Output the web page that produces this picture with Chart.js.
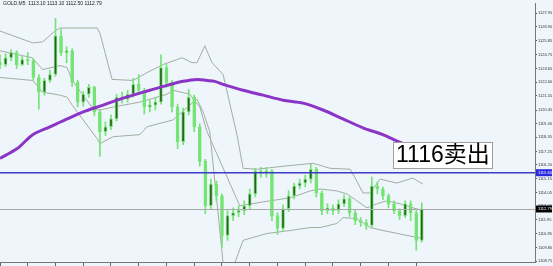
<!DOCTYPE html>
<html lang="zh">
<head>
    <meta charset="UTF-8">
    <title>GOLD,M5</title>
    <script src="https://cdn.jsdelivr.net/npm/chart.js"></script>
    <style>
        html, body { margin: 0; padding: 0; background: #eef5fb; overflow: hidden; }
    </style>
</head>
<body>
    <canvas id="goldChart" width="553" height="266"></canvas>

    <script>
        // candles, left to right (one every few M5 bars)
        var opens = [1124.13, 1123.98, 1124.51, 1124.90, 1123.98, 1124.36, 1124.28, 1122.98, 1121.84, 1122.75,
            1123.21, 1126.20, 1124.90, 1125.05, 1122.60, 1121.07, 1121.68, 1122.22, 1120.31, 1118.78,
            1119.16, 1119.77, 1121.45, 1121.30, 1121.68, 1122.45, 1121.99, 1120.69, 1120.84, 1121.07,
            1123.75, 1122.60, 1120.69, 1118.01, 1120.31, 1121.45, 1119.16, 1116.48, 1113.04, 1114.72,
            1113.80, 1110.74, 1112.27, 1112.50, 1112.66, 1113.04, 1113.96, 1115.72, 1115.56, 1115.72,
            1112.27, 1111.28, 1112.81, 1113.80, 1114.57, 1114.80, 1115.10, 1115.87, 1114.03, 1112.66,
            1112.88, 1112.66, 1113.19, 1113.57, 1112.50, 1111.89, 1111.74, 1111.51, 1114.57, 1114.34,
            1113.80, 1113.19, 1112.66, 1112.27, 1113.19, 1112.50, 1110.36];
        var highs = [1124.74, 1124.82, 1125.12, 1125.05, 1124.67, 1124.90, 1124.44, 1123.21, 1122.91, 1123.52,
            1127.57, 1126.73, 1125.35, 1125.20, 1122.75, 1121.91, 1122.45, 1122.29, 1120.46, 1119.54,
            1120.08, 1121.68, 1121.84, 1121.99, 1122.91, 1123.21, 1122.14, 1121.22, 1121.45, 1124.74,
            1123.98, 1122.75, 1120.92, 1120.61, 1122.06, 1121.61, 1119.39, 1116.63, 1115.10, 1114.95,
            1113.96, 1112.66, 1112.88, 1113.04, 1113.42, 1114.34, 1115.94, 1116.02, 1116.02, 1115.87,
            1112.50, 1113.11, 1114.19, 1114.80, 1115.10, 1115.41, 1116.25, 1116.02, 1114.19, 1113.19,
            1113.11, 1113.50, 1113.88, 1113.73, 1112.73, 1112.12, 1111.97, 1115.26, 1114.87, 1114.49,
            1113.96, 1113.42, 1112.81, 1113.42, 1113.42, 1112.66, 1113.27];
        var lows = [1123.67, 1123.82, 1124.28, 1123.67, 1123.90, 1123.98, 1122.75, 1120.53, 1121.61, 1122.60,
            1123.06, 1124.67, 1124.13, 1122.29, 1120.69, 1120.76, 1121.45, 1120.00, 1116.86, 1118.47,
            1118.93, 1119.62, 1120.99, 1121.07, 1121.45, 1121.68, 1120.15, 1120.31, 1120.46, 1120.92,
            1122.22, 1120.31, 1117.47, 1117.78, 1120.08, 1118.78, 1116.10, 1112.43, 1112.81, 1113.42,
            1109.82, 1110.36, 1111.89, 1112.20, 1112.35, 1112.81, 1113.73, 1115.26, 1115.26, 1111.89,
            1110.82, 1111.05, 1112.58, 1113.57, 1114.34, 1114.49, 1114.80, 1113.73, 1112.35, 1112.43,
            1112.35, 1112.43, 1112.96, 1112.20, 1111.58, 1111.43, 1111.20, 1111.35, 1113.96, 1113.50,
            1112.88, 1112.43, 1111.97, 1112.12, 1111.89, 1109.60, 1110.21];
        var closes = [1123.98, 1124.51, 1124.90, 1123.98, 1124.36, 1124.28, 1122.98, 1121.84, 1122.75, 1123.21,
            1126.20, 1124.90, 1125.05, 1122.60, 1121.07, 1121.68, 1122.22, 1120.31, 1118.78, 1119.16,
            1119.77, 1121.45, 1121.30, 1121.68, 1122.45, 1121.99, 1120.69, 1120.84, 1121.07, 1123.75,
            1122.60, 1120.69, 1118.01, 1120.31, 1121.45, 1119.16, 1116.48, 1113.04, 1114.72, 1113.80,
            1110.74, 1112.27, 1112.50, 1112.66, 1113.04, 1113.96, 1115.72, 1115.56, 1115.72, 1112.27,
            1111.28, 1112.81, 1113.80, 1114.57, 1114.80, 1115.10, 1115.87, 1114.03, 1112.66, 1112.88,
            1112.66, 1113.19, 1113.57, 1112.50, 1111.89, 1111.74, 1111.51, 1114.57, 1114.34, 1113.80,
            1113.19, 1112.66, 1112.27, 1113.19, 1112.50, 1110.36, 1112.79];

        // bollinger bands and the slow moving average: [candle index, price]
        var upperBand = [[0, 1126.58], [5.9, 1125.66], [7.7, 1125.74], [9.9, 1126.58], [10.8, 1126.81], [17.5, 1126.81],
            [18.0, 1126.42], [20.2, 1122.83], [24.0, 1122.75], [26.5, 1123.36], [29.4, 1123.98], [32.8, 1124.51],
            [34.6, 1124.13], [35.5, 1124.13], [36.9, 1125.43], [38.2, 1124.13], [40.2, 1123.21], [42.7, 1118.54],
            [43.8, 1115.94], [46.3, 1115.87], [51.0, 1116.10], [56.4, 1116.33], [59.5, 1115.94], [63.1, 1115.87],
            [64.3, 1114.95], [65.4, 1114.03], [66.7, 1114.03], [68.5, 1115.10], [71.5, 1114.80], [74.4, 1115.18],
            [76.2, 1114.72]];
        var middleBand = [[0, 1125.05], [5.8, 1124.51], [7.7, 1123.59], [10.8, 1123.90], [12.1, 1123.75], [13.0, 1122.75],
            [16.8, 1120.53], [18.0, 1120.46], [20.4, 1120.69], [25.2, 1121.07], [30.1, 1121.68], [31.2, 1121.99],
            [34.2, 1121.68], [36.0, 1120.69], [37.3, 1118.78], [43.2, 1113.04], [48.6, 1113.42], [52.3, 1113.65],
            [55.9, 1114.19], [57.7, 1114.34], [60.7, 1114.19], [62.5, 1113.96], [64.3, 1113.42], [66.1, 1112.88],
            [67.9, 1113.19], [69.7, 1113.42], [72.1, 1113.19], [74.4, 1112.88], [76.2, 1112.66]];
        var lowerBand = [[0, 1122.98], [5.9, 1122.75], [7.7, 1121.84], [10.8, 1121.61], [12.1, 1121.45], [13.0, 1120.84],
            [17.5, 1118.24], [18.0, 1117.86], [20.4, 1118.39], [25.2, 1118.55], [26.5, 1119.16], [31.2, 1119.69],
            [34.2, 1120.84], [35.5, 1121.30], [36.6, 1120.31], [37.8, 1118.78], [40.2, 1108.60], [41.1, 1106.53],
            [42.3, 1108.60], [43.8, 1110.36], [48.1, 1110.89], [52.3, 1111.12], [55.9, 1111.35], [57.7, 1111.35],
            [60.7, 1111.66], [61.8, 1112.12], [64.3, 1112.04], [66.7, 1111.35], [69.0, 1111.12], [71.5, 1110.90],
            [73.3, 1110.74], [75.1, 1110.59], [76.2, 1110.51]];
        var slowMA = [[0, 1116.71], [3.1, 1117.47], [5.9, 1118.55], [9.0, 1119.16], [12.1, 1119.77], [15.0, 1120.31],
            [18.0, 1120.76], [21.1, 1121.22], [24.0, 1121.61], [27.0, 1121.99], [30.1, 1122.37], [33.0, 1122.68],
            [35.5, 1122.83], [37.3, 1122.75], [38.7, 1122.68], [40.2, 1122.45], [43.8, 1121.99], [47.4, 1121.61],
            [51.0, 1121.22], [54.6, 1120.99], [58.2, 1120.46], [61.8, 1119.77], [65.4, 1119.08], [69.0, 1118.55],
            [72.6, 1117.86], [76.6, 1117.40]];

        // price axis labels
        var priceTicks = [1127.95, 1126.90, 1125.85, 1124.75, 1123.65, 1122.60, 1121.55, 1120.45, 1119.40, 1118.35,
            1117.25, 1116.20, 1115.15, 1114.05, 1113.00, 1111.95, 1110.85, 1109.80, 1108.75];

        var sellLevel = 1115.60;
        var bidLevel = 1112.79;
        var headerText = 'GOLD,M5  1113.10 1113.10 1112.50 1112.79';
        var noteText = '1116卖出';
        var noteAt = [70.8, 1117.95];

        var bg = '#eef5fb';
        var candleGreen = '#74e474';

        function pairs(list) {
            return list.map(function (p) { return { x: p[0], y: p[1] }; });
        }

        var wickData = closes.map(function (c, i) { return { x: i, y: [lows[i], highs[i]] }; });
        var bodyData = closes.map(function (c, i) { return { x: i, y: [opens[i], c] }; });
        var bodyColors = closes.map(function (c, i) { return c > opens[i] ? '#2c5e22' : candleGreen; });

        // background, title, level lines, note box and axis value boxes
        var extras = {
            id: 'extras',
            beforeDraw: function (chart) {
                var ctx = chart.ctx;
                ctx.save();
                ctx.fillStyle = bg;
                ctx.fillRect(0, 0, chart.width, chart.height);
                ctx.restore();
            },
            afterDatasetsDraw: function (chart) {
                var ctx = chart.ctx;
                var area = chart.chartArea;
                var ys = chart.scales.y;
                var xs = chart.scales.x;

                ctx.save();
                // bid line
                var yb = Math.round(ys.getPixelForValue(bidLevel)) + 0.5;
                ctx.strokeStyle = '#a8a8a8';
                ctx.lineWidth = 1;
                ctx.beginPath();
                ctx.moveTo(area.left, yb);
                ctx.lineTo(area.right, yb);
                ctx.stroke();

                // sell level line
                var ysl = ys.getPixelForValue(sellLevel);
                ctx.strokeStyle = '#3c3cc8';
                ctx.lineWidth = 1.5;
                ctx.beginPath();
                ctx.moveTo(area.left, ysl);
                ctx.lineTo(area.right, ysl);
                ctx.stroke();

                // note box
                var nx = Math.round(xs.getPixelForValue(noteAt[0]));
                var ny = Math.round(ys.getPixelForValue(noteAt[1]));
                ctx.font = '23px "Liberation Sans", "Noto Sans CJK SC", sans-serif';
                var tw = Math.round(ctx.measureText(noteText).width);
                ctx.fillStyle = '#ffffff';
                ctx.fillRect(nx, ny, tw + 5, 26);
                ctx.strokeStyle = '#a0a0a0';
                ctx.lineWidth = 1;
                ctx.strokeRect(nx + 0.5, ny + 0.5, tw + 5, 26);
                ctx.fillStyle = '#000000';
                ctx.textBaseline = 'middle';
                ctx.textAlign = 'left';
                ctx.fillText(noteText, nx + 3, ny + 14);

                // header
                ctx.font = '5px "Liberation Sans", sans-serif';
                ctx.fillStyle = '#222';
                ctx.textBaseline = 'middle';
                ctx.fillText(headerText, 3, 4);

                // value boxes on the price axis
                function axisBox(val, fill) {
                    var py = ys.getPixelForValue(val);
                    ctx.fillStyle = fill;
                    ctx.fillRect(area.right + 1, py - 3.5, 16, 7);
                    ctx.fillStyle = '#ffffff';
                    ctx.font = '4px "Liberation Sans", sans-serif';
                    ctx.textAlign = 'left';
                    ctx.fillText(val.toFixed(2), area.right + 3, py);
                }
                axisBox(sellLevel, '#2a2ae0');
                axisBox(bidLevel, '#000000');
                ctx.restore();
            }
        };

        var ctx = document.getElementById('goldChart').getContext('2d');
        var goldChart = new Chart(ctx, {
            type: 'bar',
            data: {
                datasets: [
                    {
                        type: 'line', data: pairs(slowMA), borderColor: '#8b35c6', borderWidth: 3,
                        pointRadius: 0, tension: 0.3, order: 0
                    },
                    {
                        data: bodyData, backgroundColor: bodyColors, borderColor: candleGreen,
                        borderWidth: 1, borderSkipped: false, barThickness: 3,
                        minBarLength: 1, grouped: false, order: 1
                    },
                    {
                        data: wickData, backgroundColor: candleGreen, barThickness: 1,
                        grouped: false, order: 2
                    },
                    {
                        type: 'line', data: pairs(upperBand), borderColor: '#a2ada2', borderWidth: 1,
                        pointRadius: 0, order: 3
                    },
                    {
                        type: 'line', data: pairs(middleBand), borderColor: '#a2ada2', borderWidth: 1,
                        pointRadius: 0, order: 3
                    },
                    {
                        type: 'line', data: pairs(lowerBand), borderColor: '#a2ada2', borderWidth: 1,
                        pointRadius: 0, order: 3
                    }
                ]
            },
            options: {
                responsive: false,
                animation: false,
                layout: { padding: 0 },
                plugins: {
                    legend: { display: false },
                    tooltip: { enabled: false }
                },
                scales: {
                    x: {
                        type: 'linear',
                        offset: false,
                        min: 0,
                        max: 96.4,
                        afterBuildTicks: function (scale) {
                            var t = [];
                            for (var i = 0; i < closes.length; i += 5) t.push({ value: i });
                            scale.ticks = t;
                        },
                        afterFit: function (scale) { scale.height = 4; },
                        ticks: { display: false },
                        grid: { drawOnChartArea: false, drawTicks: true, tickLength: 4, color: '#666', offset: false },
                        border: { display: true, color: '#777' }
                    },
                    y: {
                        type: 'linear',
                        position: 'right',
                        min: 1108.68,
                        max: 1128.72,
                        afterBuildTicks: function (scale) {
                            scale.ticks = priceTicks.map(function (v) { return { value: v }; });
                        },
                        afterFit: function (scale) { scale.width = 18; },
                        ticks: {
                            autoSkip: false,
                            padding: 1,
                            color: '#333',
                            font: { size: 4, family: '"Liberation Sans", sans-serif' },
                            callback: function (v) { return Number(v).toFixed(2); }
                        },
                        grid: { drawOnChartArea: false, drawTicks: true, tickLength: 2, color: '#555' },
                        border: { display: true, color: '#777' }
                    }
                }
            },
            plugins: [extras]
        });
    </script>
</body>
</html>
